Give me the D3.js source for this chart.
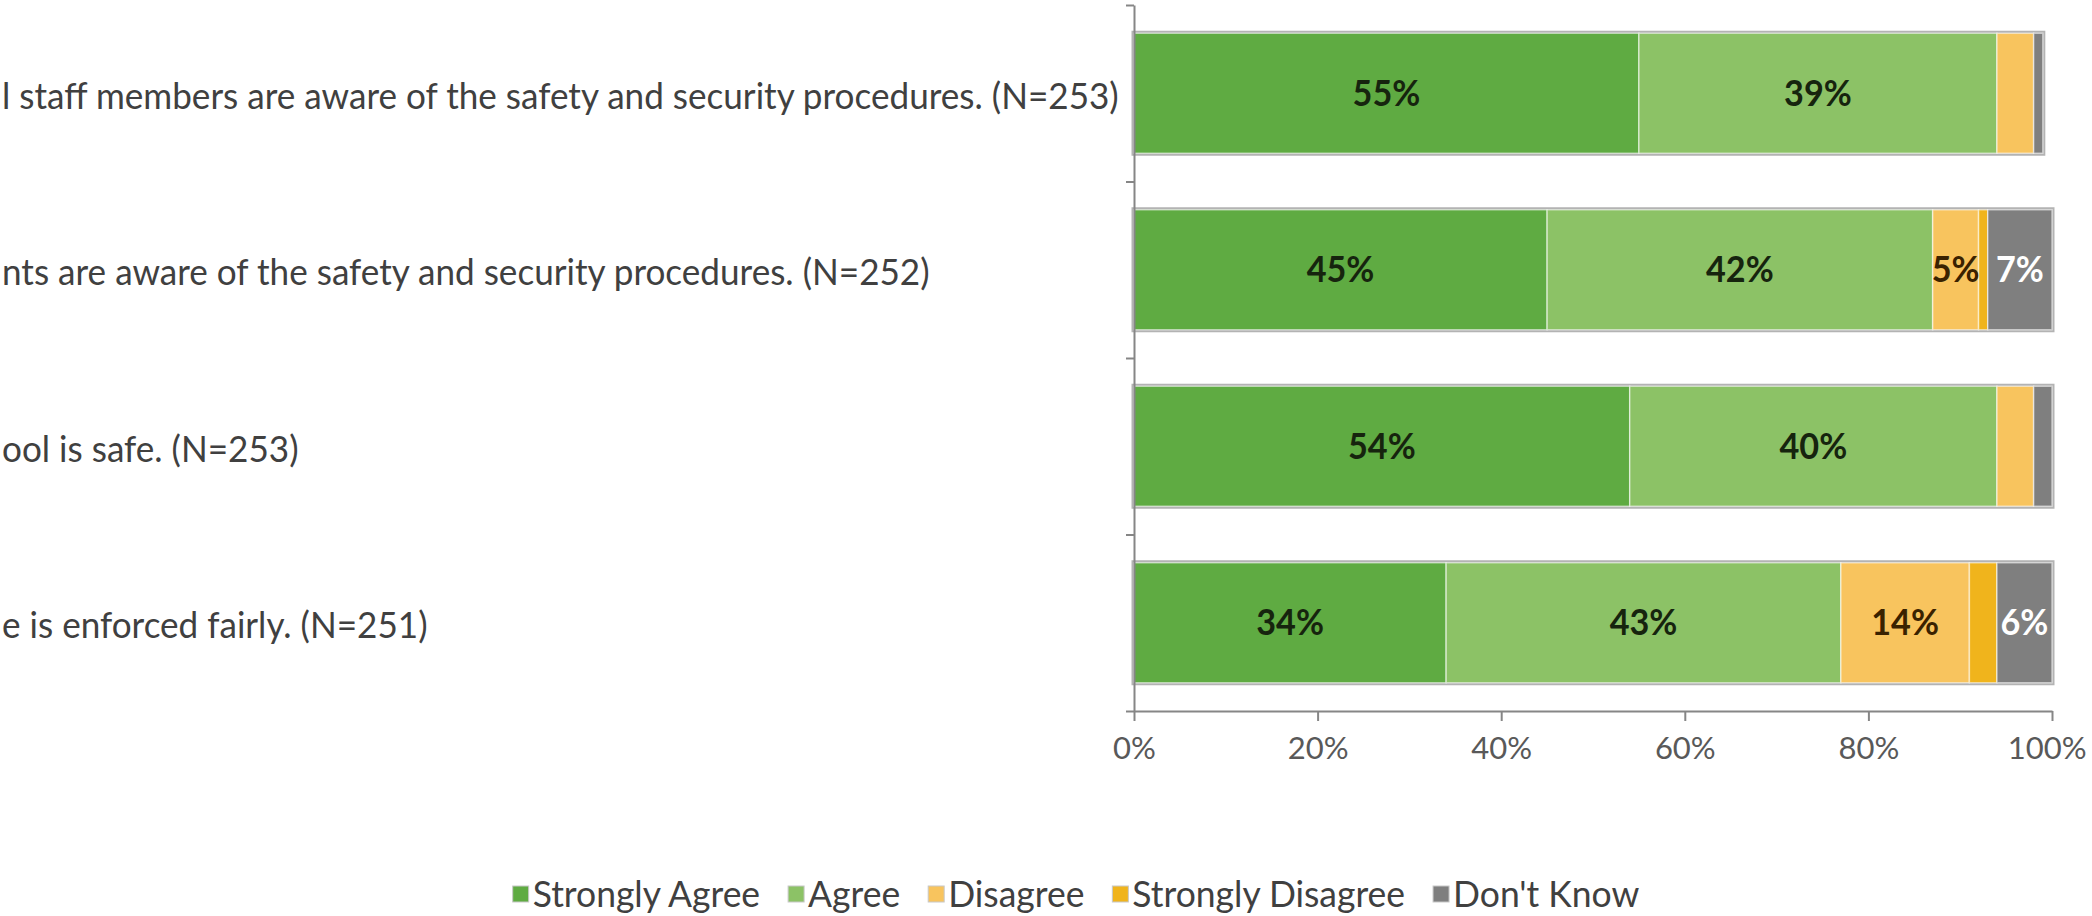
<!DOCTYPE html>
<html>
<head>
<meta charset="utf-8">
<script src="https://cdn.jsdelivr.net/npm/d3@7"></script>
<style>
  html, body { margin: 0; padding: 0; background: #fff; }
  svg { display: block; }
  text { font-family: Lato, "Open Sans", "Noto Sans", sans-serif; }
</style>
</head>
<body>
<svg id="chart" width="2092" height="916"></svg>
<script>
// ---- data ----
const categories = [
  "l staff members are aware of the safety and security procedures. (N=253)",
  "nts are aware of the safety and security procedures. (N=252)",
  "ool is safe. (N=253)",
  "e is enforced fairly. (N=251)"
];
const seriesNames = ["Strongly Agree", "Agree", "Disagree", "Strongly Disagree", "Don't Know"];
const stronglyAgree    = [55, 45, 54, 34];
const agree            = [39, 42, 40, 43];
const disagree         = [4, 5, 4, 14];
const stronglyDisagree = [0, 1, 0, 3];
const dontKnow         = [1, 7, 2, 6];
const xTickValues      = [0, 20, 40, 60, 80, 100];

// ---- styles ----
const colors = ["#5fab42", "#8cc266", "#f8c45e", "#f0b41c", "#7f7f7f"];
const labelColors = ["#16240e", "#16240e", "#3a2200", "#3a2200", "#ffffff"];

const svg = d3.select("#chart");
const seriesValues = [stronglyAgree, agree, disagree, stronglyDisagree, dontKnow];
const rows = categories.map((c, i) => {
  const r = { cat: c };
  seriesNames.forEach((s, j) => r[s] = seriesValues[j][i]);
  return r;
});
const stacked = d3.stack().keys(seriesNames)(rows);

const x = d3.scaleLinear().domain([0, 100]).range([1134, 2052]);
const y = d3.scaleBand().domain(categories).range([5, 711]).paddingInner(0.32).paddingOuter(0.16);
const yEdge = d3.scaleLinear().domain([0, categories.length]).range([5, 711]);

function squeeze(k) {
  return sel => sel.each(function() {
    const w = this.getComputedTextLength();
    d3.select(this).attr("textLength", w * k).attr("lengthAdjust", "spacingAndGlyphs");
  });
}

// category labels (left aligned, as visible in the source)
svg.append("g").selectAll("text").data(categories).join("text")
  .attr("x", 2)
  .attr("y", d => y(d) + y.bandwidth() / 2 + 3)
  .attr("dy", "0.35em")
  .attr("font-size", 36)
  .attr("fill", "#404040")
  .text(d => d)
  .call(squeeze(0.975));

// bar outlines
svg.append("g").selectAll("rect").data(rows).join("rect")
  .attr("x", x(0))
  .attr("y", d => y(d.cat))
  .attr("width", (d, i) => x(d3.sum(seriesValues, s => s[i])) - x(0))
  .attr("height", y.bandwidth())
  .attr("fill", "none")
  .attr("stroke", "#b3b3b3")
  .attr("stroke-width", 5);

// segments
const segG = svg.append("g").selectAll("g").data(stacked).join("g")
  .attr("fill", (d, i) => colors[i]);
segG.selectAll("rect").data(d => d).join("rect")
  .attr("x", d => x(d[0]))
  .attr("y", d => y(d.data.cat))
  .attr("width", d => x(d[1]) - x(d[0]))
  .attr("height", y.bandwidth())
  .attr("stroke", "rgba(255,255,255,0.55)")
  .attr("stroke-width", 1.5);

// data labels
stacked.forEach((s, si) => {
  svg.append("g").selectAll("text").data(s.filter(d => d[1] - d[0] >= 5)).join("text")
    .attr("x", d => x((d[0] + d[1]) / 2))
    .attr("y", d => y(d.data.cat) + y.bandwidth() / 2)
    .attr("dy", "0.35em")
    .attr("text-anchor", "middle")
    .attr("font-size", 36)
    .attr("font-weight", "bold")
    .attr("fill", labelColors[si])
    .text(d => Math.round(d[1] - d[0]) + "%")
    .call(squeeze(0.95));
});

// axes
const axisColor = "#868686";
const gx = svg.append("g").attr("transform", "translate(0,711)")
  .call(d3.axisBottom(x).tickValues(xTickValues).tickFormat(d => d + "%").tickSize(10).tickSizeOuter(0).tickPadding(16));
gx.select(".domain").attr("stroke", axisColor).attr("stroke-width", 2);
gx.selectAll(".tick line").attr("stroke", axisColor).attr("stroke-width", 2);
gx.selectAll(".tick text").attr("font-size", 31).attr("fill", "#595959")
  .attr("font-family", 'Lato, "Open Sans", sans-serif');
gx.selectAll(".tick text").filter(d => d === d3.max(xTickValues))
  .attr("text-anchor", "end").attr("x", 34);

const gy = svg.append("g").attr("transform", "translate(1134,0)")
  .call(d3.axisLeft(yEdge).tickValues(d3.range(categories.length + 1)).tickFormat("").tickSize(8).tickSizeOuter(0));
gy.select(".domain").attr("stroke", axisColor).attr("stroke-width", 2);
gy.selectAll(".tick line").attr("stroke", axisColor).attr("stroke-width", 2);

// legend
const legend = svg.append("g");
const items = legend.selectAll("g").data(seriesNames).join("g");
items.append("rect")
  .attr("width", 16).attr("height", 16).attr("y", -8)
  .attr("fill", (d, i) => colors[i])
  .attr("stroke", "#c8c8c8").attr("stroke-width", 1);
items.append("text")
  .attr("x", 20)
  .attr("dy", "0.35em")
  .attr("font-size", 36)
  .attr("fill", "#404040")
  .text(d => d)
  .call(squeeze(0.985));
let cx = 0;
const gap = 28;
items.each(function() {
  const w = this.getBBox().width;
  d3.select(this).attr("transform", `translate(${cx},0)`);
  cx += w + gap;
});
const totalW = cx - gap;
legend.attr("transform", `translate(${1076 - totalW / 2},894)`);
</script>
</body>
</html>
